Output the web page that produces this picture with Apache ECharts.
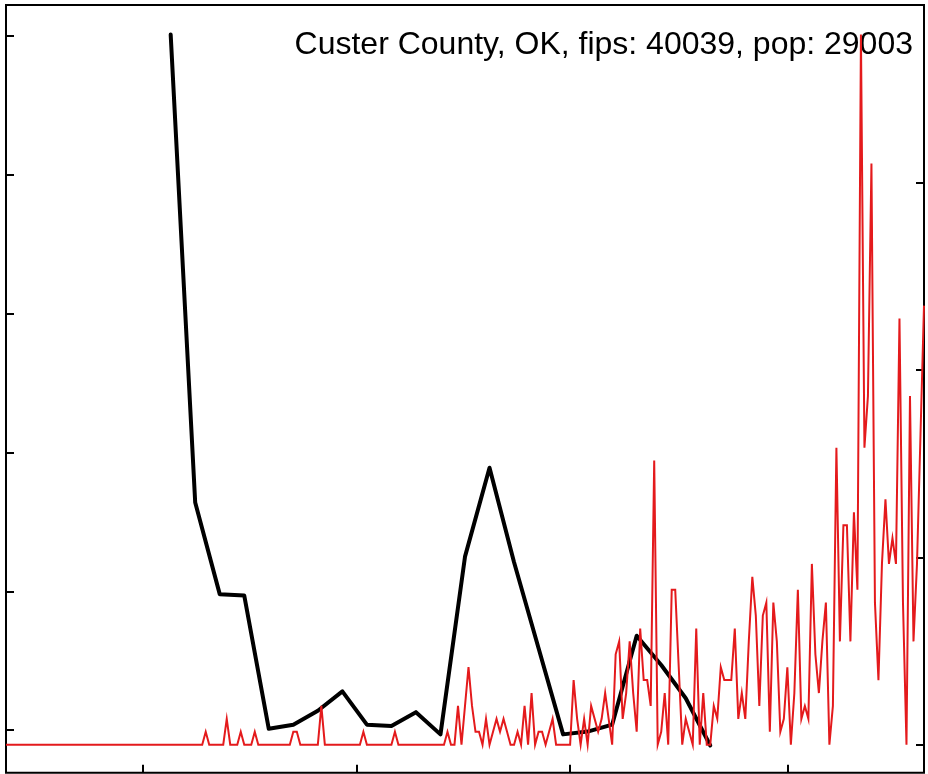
<!DOCTYPE html>
<html>
<head>
<meta charset="utf-8">
<script src="https://cdn.jsdelivr.net/npm/echarts@6/dist/echarts.min.js"></script>
<style>
html,body{margin:0;padding:0;background:#fff;}
#chart{width:928px;height:774px;}
</style>
</head>
<body>
<div id="chart"></div>
<script>
// ---- data ----
const titleText = "Custer County, OK, fips: 40039, pop: 29003";
const population = 29003;
// daily new cases, day 0 = 2020-01-22
const dailyCases = [
  0,0,0,0,0,0,0,0,0,0, 0,0,0,0,0,0,0,0,0,0,
  0,0,0,0,0,0,0,0,0,0, 0,0,0,0,0,0,0,0,0,0,
  0,0,0,0,0,0,0,0,0,0, 0,0,0,0,0,0,0,1,0,0,
  0,0,0,2,0,0,0,1,0,0, 0,1,0,0,0,0,0,0,0,0,
  0,0,1,1,0,0,0,0,0,0, 3,0,0,0,0,0,0,0,0,0,
  0,0,1,0,0,0,0,0,0,0, 0,1,0,0,0,0,0,0,0,0,
  0,0,0,0,0,0,1,0,0,3, 0,3,6,3,1,1,0,2,0,1,
  2,1,2,1,0,0,1,0,3,0, 4,0,1,1,0,1,2,0,0,0,
  0,0,5,2,0,2,0,3,2,1, 2,4,2,0,7,8,2,4,8,4,
  1,9,5,5,3,22,0,1,4,0, 12,12,6,0,2,1,0,9,0,4,
  0,0,3,2,6,5,5,5,9,2, 4,2,8,13,10,3,10,11,1,11,
  8,1,2,6,0,4,12,2,3,2, 14,7,4,8,11,0,3,23,8,17,
  17,8,18,12,55,23,27,45,11,5, 14,19,14,16,14,33,11,0,27,8,
  14,24,34
];
// weekly series (black), day index of each point and value
const weeklyDays = [47,54,61,68,75,82,89,96,103,110,117,124,131,138,145,152,159,166,173,180,187,194,201];
const weeklyValues = [5.01,1.64,0.98,0.97,0.01,0.04,0.14,0.28,0.04,0.03,0.13,-0.03,1.25,1.89,1.21,0.59,-0.03,-0.01,0.04,0.68,0.47,0.23,-0.11];
// tick positions
const xTickDays = [39,100,161,223];          // Mar 1, May 1, Jul 1, Sep 1
const leftTicks = [0,1,2,3,4,5];
const rightTicksPer100k = [0,50,100,150];

// ---- chart ----
const chart = echarts.init(document.getElementById('chart'), null, {renderer:'canvas'});
const rightTickCases = rightTicksPer100k.map(v => v * population / 100000);
const tickStyle = {show:true, inside:true, length:8, lineStyle:{color:'#000', width:2}};

chart.setOption({
  animation:false,
  backgroundColor:'#fff',
  grid:{left:6, right:4, top:5, bottom:1.3, show:true, borderColor:'#000', borderWidth:2, backgroundColor:'transparent'},
  xAxis:{
    type:'value', min:0, max:262, position:'bottom',
    axisLine:{show:false, onZero:false},
    axisTick:Object.assign({}, tickStyle, {customValues:xTickDays}),
    axisLabel:{show:false},
    splitLine:{show:false}
  },
  yAxis:[
    {
      type:'value', position:'left', min:-0.306, max:5.223,
      axisLine:{show:false, onZero:false},
      axisTick:Object.assign({}, tickStyle, {customValues:leftTicks}),
      axisLabel:{show:false},
      splitLine:{show:false}
    },
    {
      type:'value', position:'right', min:-2.169, max:57.28,
      axisLine:{show:false, onZero:false},
      axisTick:Object.assign({}, tickStyle, {customValues:rightTickCases}),
      axisLabel:{show:false},
      splitLine:{show:false}
    }
  ],
  graphic:[{
    type:'text', right: 928-913, top:29, z:0,
    style:{text:titleText, fill:'#000', font:'32px "Liberation Sans", Arial, sans-serif', textAlign:'right'}
  }],
  series:[
    {
      type:'line', xAxisIndex:0, yAxisIndex:0, z:3,
      data: weeklyDays.map((d,i)=>[d, weeklyValues[i]]),
      showSymbol:false, symbol:'none',
      lineStyle:{color:'#000', width:4, join:'round', cap:'round'}
    },
    {
      type:'line', xAxisIndex:0, yAxisIndex:1, z:4,
      data: dailyCases.map((v,i)=>[i, v]),
      showSymbol:false, symbol:'none',
      lineStyle:{color:'#E41A1C', width:2, join:'miter'}
    }
  ]
});
</script>
</body>
</html>
